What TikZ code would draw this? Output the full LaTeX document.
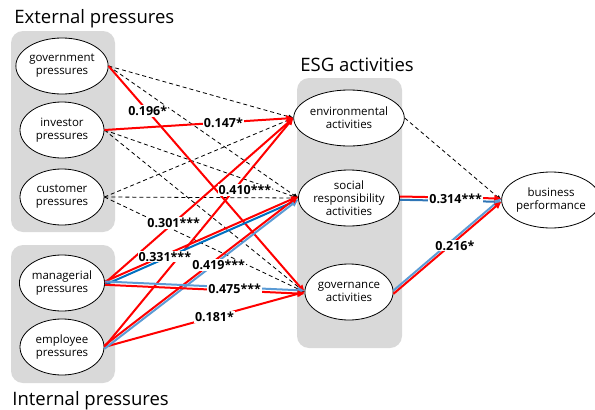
\documentclass[tikz,border=0pt]{standalone}
\usepackage{fontspec}
\setmainfont{Open Sans}
\usetikzlibrary{shapes.geometric, arrows.meta}
\definecolor{sigred}{RGB}{255,0,0}
\definecolor{lightblue}{RGB}{91,155,213}
\definecolor{darkblue}{RGB}{0,112,192}
\definecolor{midblue}{RGB}{46,117,182}
\definecolor{boxgray}{RGB}{217,217,217}

\begin{document}
\begin{tikzpicture}[x=1pt, y=-1pt, line width=0.8pt,
	main/.style = {draw, ellipse, fill=white, minimum width=84pt, minimum height=56pt, inner sep=0pt, align=center, font=\fontsize{11.5}{13}\selectfont},
	group/.style = {fill=boxgray, rounded corners=12pt},
	title/.style = {anchor=base west, inner sep=0pt, font=\fontsize{18.5}{20}\selectfont},
	ns/.style = {draw, dash pattern=on 4pt off 3pt, -{Triangle[length=5pt,width=4pt]}},
	sig/.style = {draw=sigred, line width=2pt, -{Triangle[length=7pt,width=6pt]}},
	blu/.style = {line width=2pt, -{Triangle[length=7pt,width=6pt]}},
	up/.style = {transform canvas={yshift=1.5pt}},
	dn/.style = {transform canvas={yshift=-1.8pt}},
	lab/.style = {fill=white, inner sep=1pt, font=\bfseries\fontsize{12.5}{14}\selectfont}]
	\useasboundingbox (0,0) rectangle (595,410);
	
	% groups
	\fill[group] (11,31) rectangle (115,232);
	\fill[group] (11,245) rectangle (115,383);
	\fill[group] (297,78) rectangle (402,348);
	\node[title] (ext) at (14,23) {External pressures};
	\node[title] (int) at (12,405) {Internal pressures};
	\node[title] (esg) at (300,71) {ESG activities};
	
	% nodes
	\node[main] (gov) at (62,66) {government\\pressures};
	\node[main] (inv) at (62,130) {investor\\pressures};
	\node[main] (cus) at (62,197) {customer\\pressures};
	\node[main] (man) at (62,283) {managerial\\pressures};
	\node[main] (emp) at (62,347) {employee\\pressures};
	\node[main] (env) at (349,118) {environmental\\activities};
	\node[main] (soc) at (349,198) {social\\responsibility\\activities};
	\node[main] (gvn) at (349,292) {governance\\activities};
	\node[main] (bus) at (551,200) {business\\performance};
	
	% non-significant paths
	\draw[ns] (gov.east) -- (env.west);
	\draw[ns] (gov.east) -- (soc.west);
	\draw[ns] (inv.east) -- (soc.west);
	\draw[ns] (inv.east) -- (gvn.west);
	\draw[ns] (cus.east) -- (env.west);
	\draw[ns] (cus.east) -- (soc.west);
	\draw[ns] (cus.east) -- (gvn.west);
	\draw[ns] (env.east) -- (bus.west);
	
	% significant paths
	\draw[sig] (gov.east) -- coordinate[pos=0.2] (l1) (gvn.west);
	\draw[sig] (inv.east) -- coordinate[pos=0.63] (l2) (env.west);
	\draw[sig] (man.east) -- coordinate[pos=0.365] (l3) (env.west);
	\draw[sig] (emp.east) -- coordinate[pos=0.686] (l4) (env.west);
	\draw[sig] (emp.east) -- coordinate[pos=0.55] (l5) (gvn.west);
	\draw[blu, darkblue, dn] (man.east) -- (soc.west);
	\draw[sig, up] (man.east) -- coordinate[pos=0.31] (l6) (soc.west);
	\draw[blu, lightblue, dn] (emp.east) -- (soc.west);
	\draw[sig, up] (emp.east) -- coordinate[pos=0.59] (l7) (soc.west);
	\draw[blu, lightblue, up] (man.east) -- (gvn.west);
	\draw[sig, dn] (man.east) -- coordinate[pos=0.65] (l8) (gvn.west);
	\draw[blu, midblue, dn] (soc.east) -- (bus.west);
	\draw[sig, up] (soc.east) -- coordinate[pos=0.55] (l9) (bus.west);
	\draw[blu, lightblue, up] (gvn.east) -- (bus.west);
	\draw[sig, dn] (gvn.east) -- coordinate[pos=0.57] (l10) (bus.west);
	
	% estimates
	\node[lab] at (l1) {0.196*};
	\node[lab] at (l2) {0.147*};
	\node[lab] at (l3) {0.301***};
	\node[lab, xshift=11pt] at (l4) {0.410***};
	\node[lab] at (l5) {0.181*};
	\node[lab] at (l6) {0.331***};
	\node[lab, yshift=-6pt] at (l7) {0.419***};
	\node[lab] at (l8) {0.475***};
	\node[lab] at (l9) {0.314***};
	\node[lab, yshift=-6pt] at (l10) {0.216*};
\end{tikzpicture}
\end{document}
